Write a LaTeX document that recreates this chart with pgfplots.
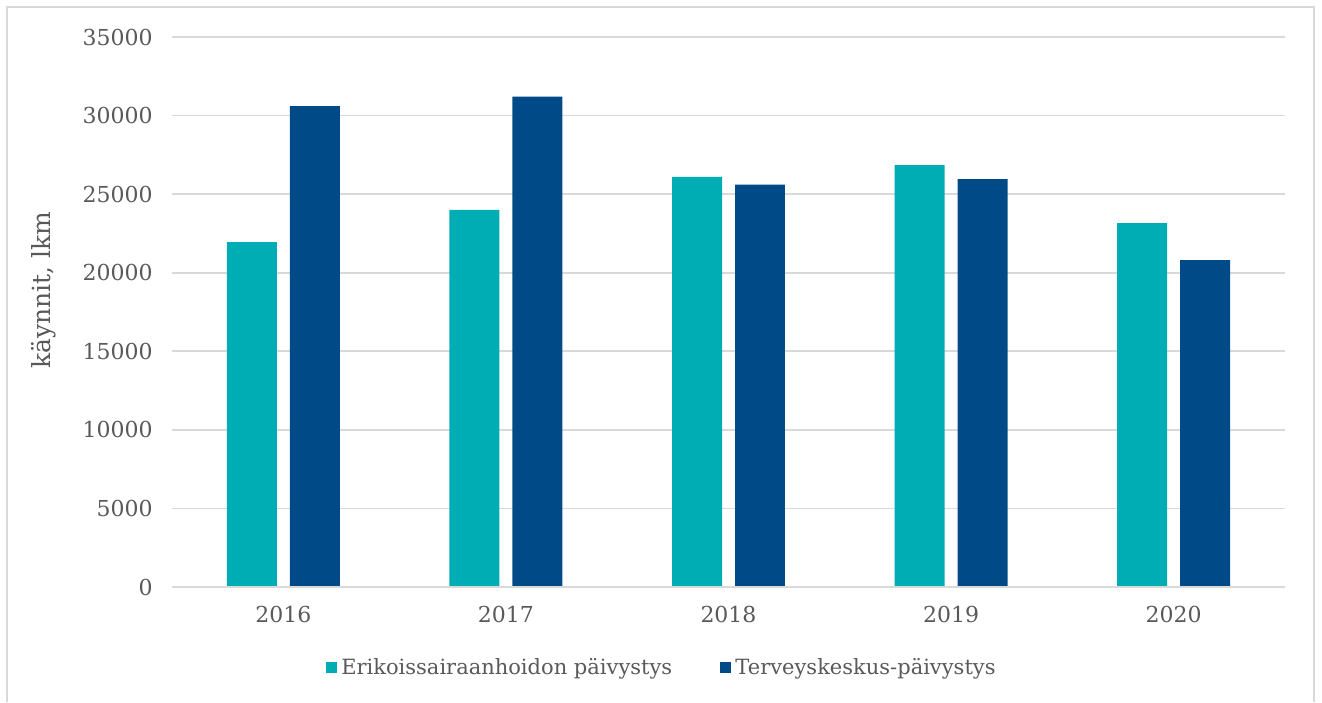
\documentclass[border=0pt]{standalone}
\usepackage{pgfplots}
\pgfplotsset{compat=1.18}
\usepackage{fontspec}
\setmainfont{DejaVu Serif}
\definecolor{teal1}{RGB}{0,173,181}
\definecolor{navy1}{RGB}{0,75,135}
\definecolor{txt}{RGB}{89,89,89}
\definecolor{gridc}{RGB}{217,217,217}
\begin{document}
\fontsize{10.5pt}{12pt}\selectfont
\begin{tikzpicture}
\begin{axis}[
  name=ax,
  at={(0,0)}, anchor=south west,
  scale only axis,
  width=556.5pt, height=275pt,
  xmin=-0.5, xmax=4.5,
  ymin=0, ymax=35000,
  ytick={0,5000,...,35000},
  xtick={0,1,2,3,4},
  xticklabels={2016,2017,2018,2019,2020},
  /pgf/number format/assume math mode=true,
  /pgf/number format/1000 sep={},
  scaled y ticks=false,
  major tick length=0pt,
  ymajorgrids,
  grid style={gridc, line width=0.8pt},
  axis lines*=left,
  axis line style={draw=none},
  ticklabel style={txt, font=\fontsize{11pt}{13pt}\selectfont},
  yticklabel style={xshift=-6pt},
  xticklabel style={yshift=-6pt},
  ylabel={käynnit, lkm},
  ylabel style={txt, font=\fontsize{12.5pt}{14pt}\selectfont, at={(axis description cs:-0.1150,0.54)}, anchor=center},
  legend style={at={(axis description cs:0.441,-0.147)}, anchor=center, draw=none, fill=none,
    font=\fontsize{10.5pt}{12pt}\selectfont, text=txt, legend columns=2,
    /tikz/every even column/.append style={column sep=22pt}},
  legend image code/.code={\fill[#1] (0pt,-2.8pt) rectangle (5.6pt,2.8pt);},
  bar width=0.2246,
]
\addplot[ybar, fill=teal1, draw=none, bar shift=-0.1415] coordinates {(0,21950) (1,24000) (2,26100) (3,26850) (4,23150)};
\addlegendentry{Erikoissairaanhoidon päivystys}
\addplot[ybar, fill=navy1, draw=none, bar shift=0.1415] coordinates {(0,30600) (1,31200) (2,25600) (3,25950) (4,20800)};
\addlegendentry{Terveyskeskus-päivystys}
\draw[gridc, line width=0.8pt] (axis cs:-0.5,0) -- (axis cs:4.5,0);
\end{axis}
\path[use as bounding box] ([xshift=-86pt,yshift=-57.5pt]ax.south west) rectangle ([xshift=18.5pt,yshift=18.5pt]ax.north east);
\draw[gridc, line width=0.8pt] ([xshift=-82.5pt,yshift=-57.5pt]ax.south west) -- ([xshift=-82.5pt,yshift=15pt]ax.north west) -- ([xshift=14.5pt,yshift=15pt]ax.north east) -- ([xshift=14.5pt,yshift=-57.5pt]ax.south east);
\end{tikzpicture}
\end{document}
